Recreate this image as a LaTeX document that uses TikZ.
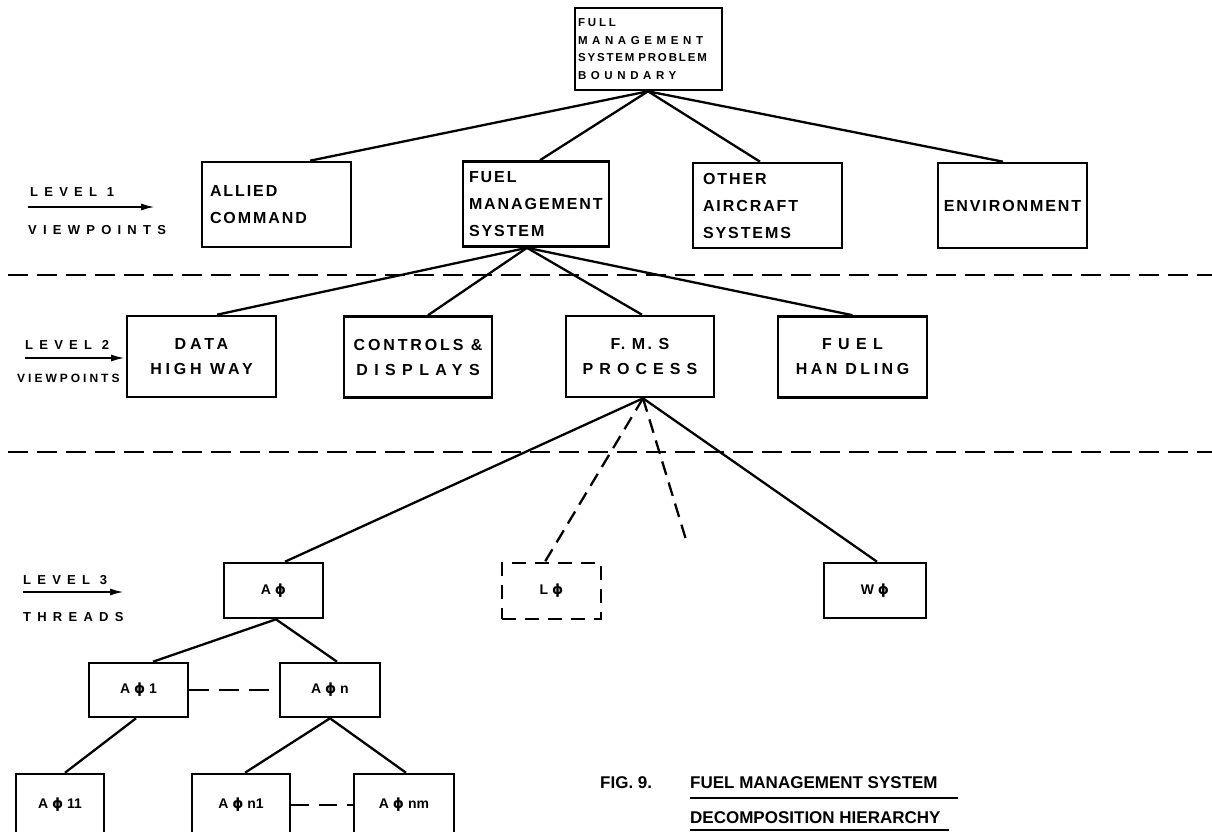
\documentclass[tikz,border=0pt]{standalone}
\usepackage{fontspec}
\setmainfont{Liberation Sans}
\newfontfamily\phifont{DejaVu Sans}
\usetikzlibrary{arrows.meta}
% letter-spaced lettering and the phi symbol
\newcommand\spaced[2]{{\addfontfeature{LetterSpace=#1}#2}}
\newcommand\phig{{\phifont\bfseries ϕ}}

\begin{document}
\begin{tikzpicture}[x=1pt,y=-1pt,
  blk/.style={draw, line width=2.6pt, inner sep=0pt},
  lone/.style={blk, font=\bfseries\fontsize{16}{27}\selectfont\addfontfeature{LetterSpace=12},
               align=left, minimum height=85pt},
  ltwo/.style={blk, font=\bfseries\fontsize{16}{25}\selectfont, align=center, minimum height=81pt},
  lthree/.style={blk, font=\bfseries\fontsize{14}{16}\selectfont, minimum height=55pt},
  conn/.style={line width=2.3pt},
  dconn/.style={conn, dash pattern=on 14pt off 8pt},
  sep/.style={line width=2.3pt, dash pattern=on 20pt off 9pt},
  lab/.style={anchor=west, inner sep=0pt, font=\bfseries\fontsize{13}{15}\selectfont},
  larrow/.style={line width=2pt, -{Latex[length=14pt,width=7pt]}},
  capt/.style={anchor=west, inner xsep=0pt, font=\bfseries\fontsize{17}{20}\selectfont},
  uline/.style={line width=2pt}
]
\useasboundingbox (0,0) rectangle (1212,831);
\clip (0,0) rectangle (1212,831);

% problem boundary
\node[blk, font=\bfseries\fontsize{11.5}{17.5}\selectfont, align=left, text width=141pt,
      inner xsep=3pt, minimum width=147pt, minimum height=82pt] (top) at (648.5,49)
  {\spaced{25}{FULL}\\\spaced{40}{MANAGEMENT}\\\spaced{16}{SYSTEM PROBLEM}\\\spaced{40}{BOUNDARY}};

% level 1 viewpoints
\node[lone, text width=133pt, inner xsep=8pt, minimum width=149pt] (allied) at (276.5,204.5) {ALLIED\\COMMAND};
\node[lone, text width=134pt, inner xsep=6pt, minimum width=146pt] (fms) at (536,204) {FUEL\\MANAGEMENT\\SYSTEM};
\node[lone, text width=129pt, inner xsep=10pt, minimum width=149pt] (other) at (767.5,205.5) {OTHER\\AIRCRAFT\\SYSTEMS};
\node[lone, align=center, minimum width=149pt] (env) at (1012.5,205.5) {ENVIRONMENT};

% level 2 viewpoints
\node[ltwo, minimum width=149pt] (data) at (201.5,356.5) {\spaced{24}{DATA}\\\spaced{24}{HIGH WAY}};
\node[ltwo, minimum width=148pt] (ctrl) at (418,357) {\spaced{18}{CONTROLS \&}\\\spaced{40}{DISPLAYS}};
\node[ltwo, minimum width=148pt] (proc) at (640,356.5) {\spaced{14}{F. M. S}\\\spaced{38}{PROCESS}};
\node[ltwo, minimum width=149pt] (fuelh) at (852.5,357) {\spaced{40}{FUEL}\\\spaced{22}{HAN DLING}};

% level 3 threads
\node[lthree, minimum width=99pt] (a0) at (273.5,590.5) {A \phig};
\node[lthree, minimum width=99pt, minimum height=56pt, dash pattern=on 14pt off 9pt] (l0) at (551.5,591) {L \phig};
\node[lthree, minimum width=102pt] (w0) at (875,590.5) {W \phig};
\node[lthree, minimum width=99pt, minimum height=54pt] (a01) at (138.5,690) {A \phig{} 1};
\node[lthree, minimum width=100pt, minimum height=54pt] (a0n) at (330,690) {A \phig{} n};
\node[lthree, minimum width=88pt, minimum height=62pt] (a011) at (60,805) {A \phig{} 11};
\node[lthree, minimum width=98pt, minimum height=62pt] (a0n1) at (241,805) {A \phig{} n1};
\node[lthree, minimum width=100pt, minimum height=62pt] (a0nm) at (404,805) {A \phig{} nm};
\coordinate (lend) at (687,543);

% connectors
\draw[conn] ([xshift=-0.5pt]top.south) -- ([xshift=33.5pt]allied.north);
\draw[conn] ([xshift=-0.5pt]top.south) -- ([xshift=4pt]fms.north);
\draw[conn] ([xshift=-0.5pt]top.south) -- ([xshift=-7.5pt]other.north);
\draw[conn] ([xshift=-0.5pt]top.south) -- ([xshift=-9.5pt]env.north);

\draw[conn] ([xshift=-9pt]fms.south) -- ([xshift=15.5pt]data.north);
\draw[conn] ([xshift=-9pt]fms.south) -- ([xshift=10pt]ctrl.north);
\draw[conn] ([xshift=-9pt]fms.south) -- ([xshift=2pt]proc.north);
\draw[conn] ([xshift=-9pt]fms.south) -- (fuelh.north);

\draw[conn] ([xshift=3pt]proc.south) -- ([xshift=11.5pt]a0.north);
\draw[dconn] ([xshift=3pt]proc.south) -- ([xshift=-6.5pt]l0.north);
\draw[dconn] ([xshift=3pt]proc.south) -- (lend);
\draw[conn] ([xshift=3pt]proc.south) -- ([xshift=2pt]w0.north);

\draw[conn] ([xshift=2.5pt]a0.south) -- ([xshift=14.5pt]a01.north);
\draw[conn] ([xshift=2.5pt]a0.south) -- ([xshift=7pt]a0n.north);
\draw[conn] ([xshift=-2.5pt]a01.south) -- ([xshift=5pt]a011.north);
\draw[conn] (a0n.south) -- ([xshift=4pt]a0n1.north);
\draw[conn] (a0n.south) -- ([xshift=2pt]a0nm.north);
\draw[dconn, dash pattern=on 20pt off 10pt] (a01.east) -- (a0n.west);
\draw[dconn, dash pattern=on 18pt off 10pt] (a0n1.east) -- (a0nm.west);

% level separators
\coordinate (s1l) at (8,275); \coordinate (s1r) at (1212,275);
\coordinate (s2l) at (8,452); \coordinate (s2r) at (1212,452);
\draw[sep] (s1l) -- (s1r);
\draw[sep] (s2l) -- (s2r);

% level labels
\node[lab] (lv1) at (30,192) {\spaced{48}{LEVEL 1}};
\node[lab] (vp1) at (28,230) {\spaced{48}{VIEWPOINTS}};
\coordinate (a1s) at (28,207); \coordinate (a1e) at (155,207);
\draw[larrow] (a1s) -- (a1e);

\node[lab] (lv2) at (25,345) {\spaced{48}{LEVEL 2}};
\node[lab, font=\bfseries\fontsize{12}{14}\selectfont] (vp2) at (17,378) {\spaced{25}{VIEWPOINTS}};
\coordinate (a2s) at (25,358); \coordinate (a2e) at (125,358);
\draw[larrow] (a2s) -- (a2e);

\node[lab] (lv3) at (23,580) {\spaced{48}{LEVEL 3}};
\node[lab] (th3) at (23,617) {\spaced{48}{THREADS}};
\coordinate (a3s) at (23,592); \coordinate (a3e) at (124,592);
\draw[larrow] (a3s) -- (a3e);

% caption
\node[capt, inner ysep=0pt] (fig) at (600,783) {FIG. 9.};
\node[capt, inner ysep=9pt] (cap1) at (690,783) {FUEL MANAGEMENT SYSTEM};
\node[capt, inner ysep=6pt] (cap2) at (690,818) {DECOMPOSITION HIERARCHY};
\draw[uline] (cap1.south west) -- ([xshift=20pt]cap1.south east);
\draw[uline] (cap2.south west) -- ([xshift=8pt]cap2.south east);
\end{tikzpicture}
\end{document}
